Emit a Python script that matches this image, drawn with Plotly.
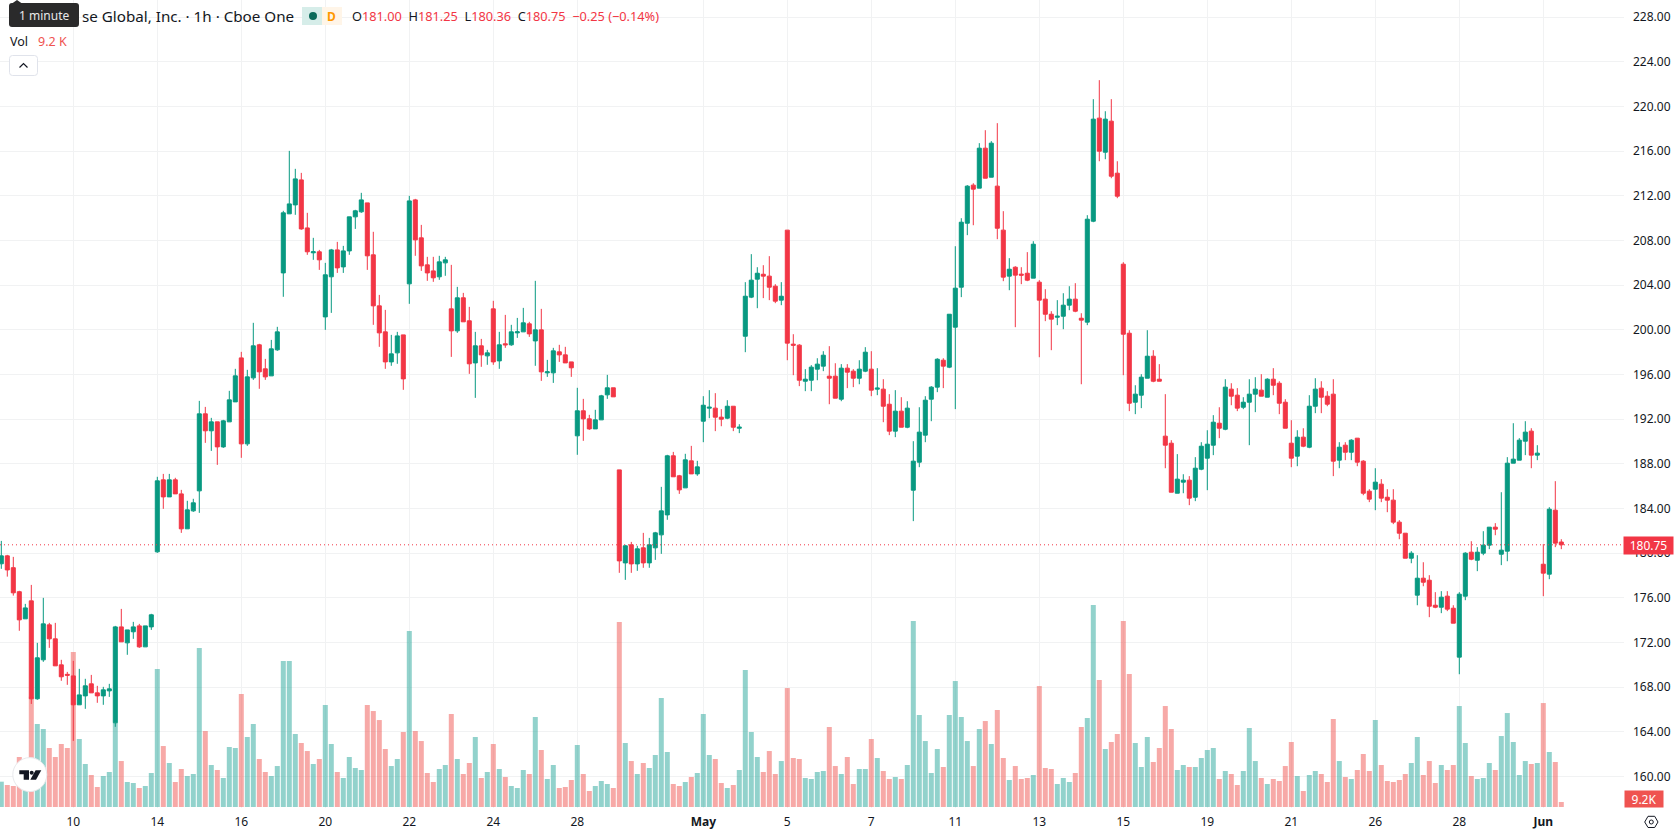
import plotly.graph_objects as go

# Hourly bars; each session opens on the index listed in date_tick_bars.
opens = [
    179.05,179.76,178.7,176.55,174.12,175.73,166.96,170.45,173.58,172.33,
    170.0,169.15,169.01,166.42,167.22,168.3,167.49,167.22,167.67,164.81,
    173.4,171.97,172.96,173.49,171.61,173.4,180.12,186.57,185.04,186.57,
    185.31,182.18,183.79,185.58,192.48,190.96,191.76,189.52,191.76,193.55,
    197.49,189.79,195.7,198.66,196.51,195.88,198.21,205.1,210.39,211.19,
    213.43,209.13,206.9,206.99,201.16,204.75,207.16,205.64,207.07,210.12,
    210.57,211.37,206.72,202.15,199.82,197.13,197.94,199.55,204.12,211.64,
    208.24,205.82,205.28,204.75,206.0,201.88,199.91,202.87,200.81,197.04,
    198.57,197.67,201.88,197.22,198.75,198.66,199.73,199.82,200.54,199.01,
    200.0,196.15,196.15,198.03,197.76,197.13,190.51,192.75,192.03,191.13,
    191.94,194.18,194.81,187.46,179.13,180.75,179.04,180.48,179.13,180.48,
    181.64,183.43,188.72,186.93,185.85,188.27,187.1,191.82,192.99,192.99,
    192.18,192.09,193.16,191.19,199.43,202.93,204.54,204.98,204.81,203.91,
    202.66,208.93,198.72,198.63,195.4,195.49,196.48,196.75,195.85,195.85,
    193.79,196.57,196.3,195.67,196.3,196.48,194.69,194.69,193.34,190.93,
    192.72,191.28,185.64,188.15,190.57,193.79,194.87,197.28,196.66,200.24,
    203.82,209.55,212.96,212.69,216.27,213.67,212.87,208.93,204.81,205.61,
    204.99,205.07,204.63,204.27,202.75,201.4,201.13,201.22,202.21,202.75,
    201.04,200.69,209.73,218.96,215.91,218.69,214.03,205.88,199.7,193.52,
    194.15,195.67,197.64,195.58,190.48,189.85,185.37,186.36,186.54,185.01,
    187.52,188.51,189.67,191.64,191.1,194.69,194.15,193.07,193.52,194.24,
    194.6,193.97,195.58,195.22,193.52,189.85,188.69,190.39,189.49,193.16,
    194.78,194.06,194.24,188.33,189.67,189.04,190.3,188.24,185.55,185.73,
    186.18,185.01,184.75,182.78,181.79,179.55,176.24,177.76,177.58,175.34,
    175.16,176.15,175.07,170.69,176.15,180.09,179.37,180.0,180.72,182.33,
    179.91,180.18,188.06,188.33,190.03,190.93,188.78,179.01,178.12,183.85,
    181.0,
]
highs = [
    181.1,179.85,179.67,176.63,175.46,177.16,171.97,176.0,173.76,173.76,
    170.45,169.37,170.36,169.64,168.75,169.1,168.12,168.03,168.3,173.49,
    175.01,173.13,173.85,173.67,173.49,174.57,186.84,187.1,187.1,186.75,
    185.67,184.69,184.87,193.64,193.1,192.12,191.76,191.94,194.54,196.51,
    198.03,196.42,200.63,198.75,197.4,199.1,200.27,210.66,216.03,214.42,
    214.06,210.48,208.24,207.16,206.0,207.25,207.88,207.52,210.12,210.75,
    212.27,211.37,208.78,203.13,201.79,199.55,199.82,199.55,212.0,211.73,
    209.4,206.54,206.54,206.63,206.54,205.82,203.85,203.31,202.06,199.82,
    199.19,198.21,202.6,199.82,201.34,200.45,201.07,201.97,200.72,204.39,
    201.88,197.31,198.39,198.66,198.48,197.13,194.81,193.82,192.39,192.84,
    194.18,195.97,194.81,187.46,180.75,181.01,180.66,181.82,181.37,181.91,
    185.94,188.81,189.07,187.01,188.9,189.61,188.27,194.06,194.6,194.33,
    192.9,193.7,193.16,191.55,204.27,206.78,205.61,205.79,206.6,204.09,
    204.27,208.93,199.61,198.72,196.48,196.84,197.46,198.09,198.54,197.01,
    196.93,196.93,196.48,197.28,198.45,198.09,196.57,195.58,194.24,194.6,
    193.97,193.61,190.03,193.07,194.06,194.96,197.46,197.46,201.4,207.49,
    210.0,212.96,213.13,216.72,217.88,216.9,218.51,210.63,206.42,205.7,
    205.61,206.96,207.94,204.45,203.64,201.67,202.66,203.28,203.91,204.18,
    201.49,210.27,220.66,222.36,219.58,220.66,215.1,206.06,199.97,195.04,
    196.03,199.97,198.18,196.93,194.24,190.12,188.87,187.07,186.9,188.6,
    189.94,191.01,192.36,193.07,195.58,195.22,194.78,193.97,195.58,195.76,
    196.03,195.67,196.57,195.4,193.79,191.91,191.01,191.19,194.15,195.67,
    195.4,194.51,195.58,189.94,189.94,190.21,190.3,188.33,185.73,187.61,
    186.63,185.73,185.73,182.96,181.79,180.18,179.82,179.19,178.03,176.51,
    176.6,176.6,175.34,176.51,180.09,181.07,180.54,181.97,182.33,182.69,
    185.46,188.6,191.64,190.3,191.82,191.19,189.67,180.81,184.12,186.45,
    181.25,
]
lows = [
    178.6,177.9,176.2,173.05,174.12,166.5,166.87,170.27,171.52,169.91,
    168.57,168.21,163.19,166.42,166.06,167.49,166.6,166.42,167.13,164.45,
    172.06,170.9,172.33,171.52,171.61,173.13,180.03,183.97,185.04,185.31,
    181.82,182.18,183.7,183.61,189.88,189.16,187.91,189.43,191.76,193.55,
    188.54,189.61,195.52,194.72,195.52,195.88,198.12,202.96,210.39,210.3,
    208.96,206.72,206.27,205.37,200.0,201.52,205.1,205.1,206.72,209.04,
    210.48,205.37,200.45,198.48,196.51,196.78,196.96,194.63,202.33,206.63,
    205.28,204.39,204.3,204.48,204.84,197.58,199.73,200.72,196.06,193.91,
    196.69,196.87,196.87,196.51,198.39,198.57,199.28,199.82,199.37,196.78,
    195.43,195.79,195.25,197.13,197.04,195.79,188.81,190.06,191.04,191.13,
    191.94,193.82,194.0,178.24,177.61,178.24,178.42,178.69,178.69,179.4,
    179.94,182.99,186.84,185.31,185.85,187.1,186.93,189.94,192.09,190.93,
    191.37,192.0,190.93,190.75,198.0,202.84,201.94,202.84,202.66,202.39,
    202.21,197.28,195.94,194.96,194.51,194.51,195.49,196.3,193.34,193.88,
    193.61,194.78,194.87,195.13,196.21,194.06,194.15,191.73,190.57,190.39,
    191.28,191.19,182.87,187.7,189.94,191.82,194.42,194.78,196.57,192.9,
    202.93,208.48,209.37,212.69,213.58,213.67,208.12,204.36,203.55,200.24,
    204.09,204.36,204.63,197.55,200.78,198.18,200.42,200.06,201.76,201.58,
    195.13,200.42,209.64,215.1,215.28,213.58,211.79,195.94,192.72,192.45,
    192.99,195.67,195.31,195.4,187.61,185.46,185.37,185.37,184.3,184.66,
    187.43,185.64,188.78,190.3,191.01,193.25,192.72,192.9,189.67,192.63,
    194.06,193.97,194.15,192.45,191.19,187.7,187.79,189.49,189.4,192.54,
    192.54,193.16,186.9,187.61,188.33,188.33,187.79,185.19,184.57,183.85,
    184.57,183.67,182.6,181.25,179.55,179.1,175.34,177.04,174.27,175.07,
    174.63,174.81,173.73,169.16,175.79,179.37,178.39,179.82,180.36,181.61,
    178.93,179.28,188.06,188.33,188.78,187.61,188.33,176.15,177.67,180.54,
    180.36,
]
closes = [
    179.76,178.5,176.45,174.03,175.1,166.96,170.63,173.67,172.33,169.91,
    168.93,169.07,166.42,167.31,168.12,167.49,167.22,167.76,167.85,173.4,
    172.06,173.13,173.4,171.61,173.49,174.48,186.48,185.04,186.57,185.31,
    182.18,183.88,184.51,192.48,190.96,191.76,189.52,191.85,193.73,195.88,
    189.79,195.79,198.57,196.24,195.79,198.3,199.82,210.48,211.28,213.52,
    209.04,206.99,206.99,206.27,204.93,207.16,205.55,207.07,210.12,210.66,
    211.64,206.63,202.15,199.73,197.13,197.85,199.46,195.61,211.55,208.06,
    205.73,205.1,204.66,206.09,206.27,199.91,202.87,200.72,196.96,198.57,
    197.76,197.94,197.13,198.66,198.66,199.82,199.82,200.63,199.64,200.0,
    196.24,196.24,198.12,197.76,197.04,196.6,192.75,192.03,191.13,191.94,
    194.09,194.81,194.0,179.31,180.66,179.04,180.39,179.13,180.75,181.82,
    183.79,188.72,186.84,185.67,188.36,187.1,187.73,193.25,193.07,192.18,
    192.0,193.16,191.28,191.28,203.01,204.45,205.07,204.81,203.82,202.57,
    203.01,198.81,198.63,195.49,195.58,196.66,196.93,197.73,195.67,193.88,
    196.57,196.21,195.67,196.48,198.0,194.6,194.78,193.16,190.93,192.72,
    191.28,192.99,188.24,190.84,193.7,194.87,197.37,196.75,201.4,203.73,
    209.64,212.87,212.6,216.27,213.58,216.72,209.1,204.72,205.43,204.9,
    204.9,204.45,207.67,202.66,201.4,200.96,201.22,202.21,202.75,201.67,
    200.87,209.91,218.87,216.0,218.87,213.76,211.97,199.61,193.43,194.24,
    195.76,197.64,195.4,195.4,189.67,185.46,186.63,186.54,184.93,187.61,
    189.58,189.76,191.73,191.19,194.87,194.06,192.99,193.52,194.24,194.69,
    194.06,195.58,195.04,193.43,191.19,188.51,190.39,189.58,193.16,194.69,
    193.97,193.34,188.24,189.49,189.04,190.12,188.15,185.37,184.84,186.36,
    184.93,184.75,182.78,181.79,179.55,180.0,177.76,177.4,175.25,175.16,
    176.06,174.99,173.73,176.33,180.0,179.46,180.09,180.72,182.33,182.15,
    180.27,188.06,188.42,190.12,190.84,188.78,188.96,178.21,183.94,180.9,
    180.75,
]
volumes_k = [
    46.6,40.5,38.6,92.0,73.6,203.0,152.7,143.5,108.6,92.0,
    115.9,108.6,285.2,125.1,79.1,58.9,36.8,57.0,64.4,154.5,
    84.6,46.0,44.2,35.0,38.6,62.6,253.9,112.2,81.0,46.0,
    69.9,57.0,60.7,292.5,139.8,77.3,68.1,53.4,110.4,108.6,
    207.9,128.8,152.7,88.3,64.4,57.0,75.4,268.6,268.6,134.3,
    117.8,103.0,79.1,88.3,187.7,115.9,64.4,53.4,92.0,71.8,
    68.1,187.7,176.6,160.0,106.7,75.4,88.3,138.0,323.8,139.8,
    121.4,62.6,46.0,69.9,77.3,171.1,88.3,60.7,81.0,128.8,
    53.4,64.4,115.9,69.9,55.2,38.6,35.0,68.1,60.7,165.6,
    104.9,51.5,77.3,35.0,36.8,49.7,114.1,60.7,29.4,38.6,
    47.8,42.3,35.0,340.4,117.8,84.6,60.7,81.0,71.8,95.7,
    200.6,101.2,42.3,38.6,46.0,55.2,62.6,171.1,95.7,88.3,
    44.2,35.0,40.5,68.1,252.1,138.0,92.0,64.4,103.0,60.7,
    84.6,218.9,90.2,88.3,53.4,51.5,64.4,66.2,147.2,75.4,
    60.7,92.0,42.3,69.9,69.9,125.1,90.2,66.2,51.5,55.2,
    51.5,77.3,342.2,169.3,121.4,62.6,106.7,73.6,169.3,231.8,
    165.6,121.4,75.4,143.5,158.2,115.9,178.5,90.2,49.7,75.4,
    51.5,53.4,58.9,222.6,71.8,69.9,42.3,53.4,46.0,62.6,
    147.2,163.8,371.7,233.7,106.7,119.6,134.3,342.2,244.7,117.8,
    73.6,128.8,82.8,108.6,185.8,143.5,68.1,77.3,73.6,73.6,
    90.2,104.9,108.6,51.5,66.2,60.7,40.5,66.2,145.4,84.6,
    53.4,42.3,51.5,47.8,75.4,119.6,57.0,29.4,58.9,66.2,
    60.7,46.0,161.9,84.6,55.2,51.5,68.1,97.5,66.2,160.1,
    77.3,47.8,46.0,49.7,60.7,81.0,128.8,58.9,84.6,44.2,
    77.3,68.1,77.3,185.8,117.8,57.0,51.5,53.4,81.0,68.1,
    130.6,172.9,119.6,58.9,84.6,79.1,81.0,191.3,101.2,82.8,
    9.2,
]
date_tick_bars = [12, 26, 40, 54, 68, 82, 96, 117, 131, 145, 159, 173, 187, 201, 215, 229, 243, 257]
date_tick_labels = ["10", "14", "16", "20", "22", "24", "28", "<b>May</b>", "5", "7", "11", "13",
                    "15", "19", "21", "26", "28", "<b>Jun</b>"]
price_ticks = list(range(160, 232, 4))

UP = "#089981"
DOWN = "#F23645"
VOL_UP = "rgba(38,166,154,0.5)"
VOL_DOWN = "rgba(239,83,80,0.5)"
VOL_LABEL = "#EF5350"
GRID = "#f1f2f3"
INK = "#131722"
FONT = "Noto Sans"

W, H = 1678, 835
PLOT_W, PLOT_H = 1624, 808


def fx(x):
    return x / PLOT_W


def fy(y):
    return 1 - y / PLOT_H


def poly(points):
    return "M" + " L".join(f"{fx(x):.5f},{fy(y):.5f}" for x, y in points) + " Z"


def rounded(x0, y0, x1, y1, r, left=True, right=True):
    # Rounded rectangle expressed in paper fractions.
    rl = r if left else 0
    rr = r if right else 0
    p = lambda x, y: f"{fx(x):.5f},{fy(y):.5f}"
    return (f"M{p(x0 + rl, y0)} L{p(x1 - rr, y0)} Q{p(x1, y0)} {p(x1, y0 + rr)} "
            f"L{p(x1, y1 - rr)} Q{p(x1, y1)} {p(x1 - rr, y1)} L{p(x0 + rl, y1)} "
            f"Q{p(x0, y1)} {p(x0, y1 - rl)} L{p(x0, y0 + rl)} Q{p(x0, y0)} {p(x0 + rl, y0)} Z")


def path_shape(path, fill=None, line=None, width=0):
    return dict(type="path", xref="paper", yref="paper", path=path, layer="above",
                fillcolor=fill or "rgba(0,0,0,0)",
                line=dict(color=line or "rgba(0,0,0,0)", width=width))


def circle(cx, cy, r, fill, line=None, width=0):
    return dict(type="circle", xref="paper", yref="paper", layer="above",
                x0=fx(cx - r), x1=fx(cx + r), y0=fy(cy + r), y1=fy(cy - r),
                fillcolor=fill, line=dict(color=line or "rgba(0,0,0,0)", width=width))


def label(x, y, text, size=13, color=INK, anchor="left", **kw):
    return dict(xref="paper", yref="paper", x=fx(x), y=fy(y), text=text, showarrow=False,
                xanchor=anchor, yanchor="middle", align=anchor,
                font=dict(family=FONT, size=size, color=color), borderpad=0, **kw)


indices = list(range(len(closes)))
vol_colors = [VOL_UP if c >= o else VOL_DOWN for o, c in zip(opens, closes)]
last_close = closes[-1]
last_volume = volumes_k[-1]

fig = go.Figure()
fig.add_trace(go.Bar(x=indices, y=volumes_k, marker=dict(color=vol_colors, line=dict(width=0)),
                     yaxis="y", hoverinfo="skip"))
fig.add_trace(go.Candlestick(
    x=indices, open=opens, high=highs, low=lows, close=closes, yaxis="y2",
    increasing=dict(line=dict(color=UP, width=1), fillcolor=UP),
    decreasing=dict(line=dict(color=DOWN, width=1), fillcolor=DOWN),
    whiskerwidth=0, hoverinfo="skip"))


def v(text):
    return f'<span style="color:{DOWN}">{text}</span>'


ohlc = ("O" + v(f"{opens[-1]:.2f}") + "  H" + v(f"{highs[-1]:.2f}") + "  L" + v(f"{lows[-1]:.2f}")
        + "  C" + v(f"{last_close:.2f}") + "  " + v(f"−{opens[-1] - last_close:.2f} (−0.14%)"))

shapes = [
    dict(type="line", xref="paper", yref="y2", x0=0, x1=1, y0=last_close, y1=last_close,
         layer="above", line=dict(color=DOWN, width=1, dash="1px,3px")),
    path_shape(rounded(9, 3, 79, 27, 3), fill="#2a2a2b"),
    path_shape(poly([(12, 3.5), (17, 0), (22, 3.5)]), fill="#2a2a2b"),
    path_shape(rounded(9.5, 55.5, 37.5, 75.5, 3), fill="#ffffff", line="#e0e3eb", width=1),
    path_shape(f"M{fx(19.5):.5f},{fy(67.5):.5f} L{fx(23.5):.5f},{fy(63.5):.5f} L{fx(27.5):.5f},{fy(67.5):.5f}",
               line="#131722", width=1.2),
    path_shape(rounded(302, 7, 322, 25, 0), fill="#d6ede9"),
    circle(313, 16, 4, "#0b6b5b"),
    path_shape(rounded(322, 7, 342, 25, 0), fill="#fff5e8"),
    circle(29.8, 774.6, 17, "#ffffff", line="#e8e9ec", width=1),
    path_shape(poly([(19.3, 770.3), (29, 770.3), (29, 779.7), (23.7, 779.7), (23.7, 774.3), (19.3, 774.3)]), fill="#131722"),
    path_shape(poly([(41.3, 770.3), (36, 779.7), (30.3, 779.7), (35.6, 770.3)]), fill="#131722"),
    circle(31.7, 772.7, 2, "#131722"),
    path_shape(poly([(1644.7, 822), (1648, 816.3), (1654.7, 816.3), (1658, 822), (1654.7, 827.5), (1648, 827.5)]),
               line="#131722", width=1),
    circle(1651.3, 822, 2, "rgba(0,0,0,0)", line="#131722", width=1),
]

annotations = [
    label(44, 15.5, "1 minute", size=12, color="#e8e8e8", anchor="center"),
    label(81, 16, "se Global, Inc. · 1h · Cboe One", size=15.2),
    label(331, 16, "<b>D</b>", size=12, color="#FF9800", anchor="center"),
    label(351, 16, ohlc, size=12.75),
    label(9, 41, "Vol", size=12.5),
    label(36.5, 41, f"{last_volume:.1f} K", size=12.5, color=VOL_LABEL),
    label(1648.5, 545, f"{last_close:.2f}", size=12, color="#ffffff", anchor="center",
          bgcolor=DOWN, width=49, height=17),
    label(1644, 799, f"{last_volume:.1f}K", size=12, color="#ffffff", anchor="center",
          bgcolor=VOL_LABEL, width=38, height=16),
]

fig.update_layout(
    width=W, height=H, autosize=False, showlegend=False,
    margin=dict(l=0, r=W - PLOT_W, t=0, b=H - PLOT_H, pad=0),
    paper_bgcolor="#ffffff", plot_bgcolor="#ffffff",
    bargap=1 / 6, boxgap=0.33, boxgroupgap=0, hovermode=False,
    font=dict(family=FONT, size=12, color=INK),
    xaxis=dict(range=[-0.217, 270.45], tickmode="array", tickvals=date_tick_bars, ticktext=date_tick_labels,
               showgrid=True, gridcolor=GRID, gridwidth=1, zeroline=False, showline=False, ticks="",
               rangeslider=dict(visible=False), tickfont=dict(family=FONT, size=12, color=INK),
               ticklabelstandoff=5, tickangle=0),
    yaxis=dict(range=[-1.84, 1485], visible=False, showgrid=False, zeroline=False),
    yaxis2=dict(range=[157.18, 229.54], overlaying="y", side="right", tickmode="array", tickvals=price_ticks,
                ticktext=[f"{p:.2f}" for p in price_ticks], showgrid=True, gridcolor=GRID, gridwidth=1,
                zeroline=False, showline=False, ticks="", tickfont=dict(family=FONT, size=12, color=INK),
                ticklabelstandoff=8),
    shapes=shapes, annotations=annotations,
)

fig.write_html("out.html", config=dict(displayModeBar=False))
